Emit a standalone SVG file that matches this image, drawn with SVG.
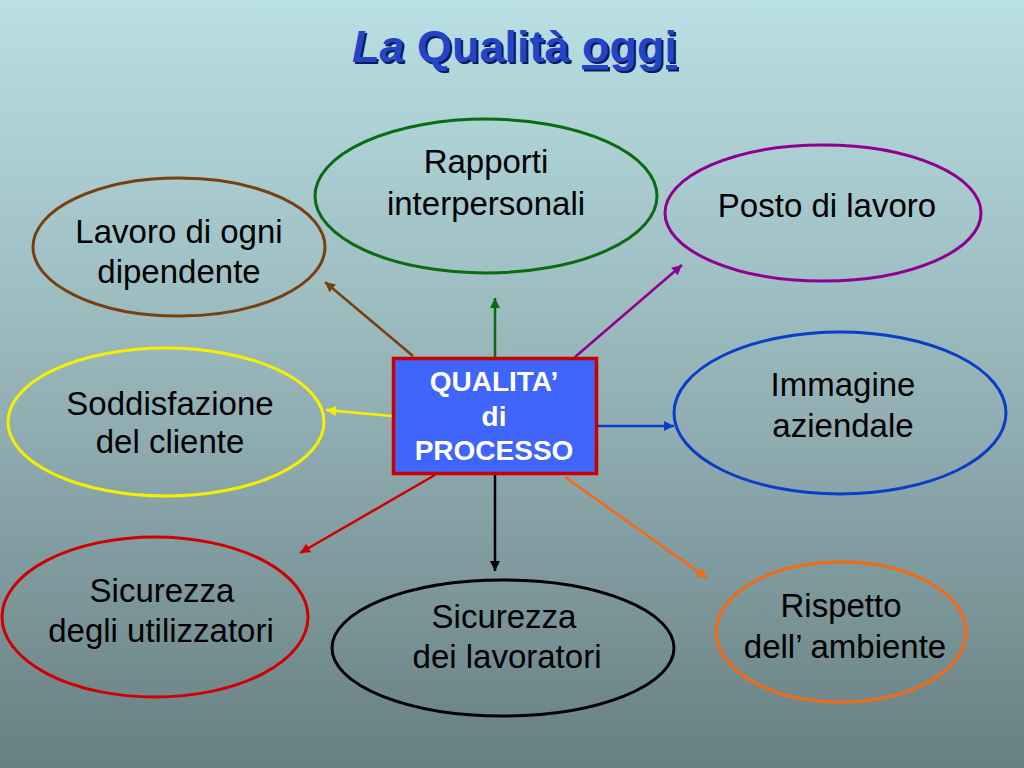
<svg xmlns="http://www.w3.org/2000/svg" width="1024" height="768" viewBox="0 0 1024 768">
<defs>
<linearGradient id="bg" x1="0" y1="0" x2="0" y2="1">
<stop offset="0" stop-color="#b9e0e4"/>
<stop offset="0.5" stop-color="#95b3b7"/>
<stop offset="1" stop-color="#687f83"/>
</linearGradient>
<marker id="a-green" viewBox="0 0 10 10" refX="10" refY="5" markerWidth="11" markerHeight="10" markerUnits="userSpaceOnUse" orient="auto"><path d="M0,0 L10,5 L0,10 Z" fill="#0b6b12"/></marker>
<marker id="a-brown" viewBox="0 0 10 10" refX="10" refY="5" markerWidth="11" markerHeight="10" markerUnits="userSpaceOnUse" orient="auto"><path d="M0,0 L10,5 L0,10 Z" fill="#7a3f0e"/></marker>
<marker id="a-yellow" viewBox="0 0 10 10" refX="10" refY="5" markerWidth="11" markerHeight="10" markerUnits="userSpaceOnUse" orient="auto"><path d="M0,0 L10,5 L0,10 Z" fill="#f5f000"/></marker>
<marker id="a-purple" viewBox="0 0 10 10" refX="10" refY="5" markerWidth="11" markerHeight="10" markerUnits="userSpaceOnUse" orient="auto"><path d="M0,0 L10,5 L0,10 Z" fill="#900090"/></marker>
<marker id="a-blue" viewBox="0 0 10 10" refX="10" refY="5" markerWidth="11" markerHeight="10" markerUnits="userSpaceOnUse" orient="auto"><path d="M0,0 L10,5 L0,10 Z" fill="#0a3dc8"/></marker>
<marker id="a-orange" viewBox="0 0 10 10" refX="10" refY="5" markerWidth="11" markerHeight="10" markerUnits="userSpaceOnUse" orient="auto"><path d="M0,0 L10,5 L0,10 Z" fill="#f56a10"/></marker>
<marker id="a-red" viewBox="0 0 10 10" refX="10" refY="5" markerWidth="11" markerHeight="10" markerUnits="userSpaceOnUse" orient="auto"><path d="M0,0 L10,5 L0,10 Z" fill="#d00000"/></marker>
<marker id="a-black" viewBox="0 0 10 10" refX="10" refY="5" markerWidth="11" markerHeight="10" markerUnits="userSpaceOnUse" orient="auto"><path d="M0,0 L10,5 L0,10 Z" fill="#000000"/></marker>
</defs>
<style>
.el{fill:none;stroke-width:3}
.lbl{font-family:"Liberation Sans",Arial,sans-serif;font-size:33px;fill:#000;text-anchor:middle}
.ctr{font-family:"Liberation Sans",Arial,sans-serif;font-size:28px;font-weight:bold;fill:#fff;text-anchor:middle}
.title{font-family:"Liberation Sans",Arial,sans-serif;font-size:45px;font-weight:bold}
.cn line{stroke-width:2.5;fill:none}
</style>
<rect x="0" y="0" width="1024" height="768" fill="url(#bg)"/>

<g id="title">
<text class="title" x="354" y="64" fill="#0c1a5a"><tspan font-style="italic">La</tspan> Qualità <tspan text-decoration="underline">oggi</tspan></text>
<text class="title" x="352" y="62" fill="#2244c8"><tspan font-style="italic">La</tspan> Qualità <tspan text-decoration="underline">oggi</tspan></text>
</g>

<g id="connectors" class="cn">
<line x1="495" y1="358" x2="495" y2="298" stroke="#0b6b12" marker-end="url(#a-green)"/>
<line x1="413" y1="356" x2="325" y2="282" stroke="#7a3f0e" marker-end="url(#a-brown)"/>
<line x1="392" y1="416" x2="326" y2="410" stroke="#f5f000" marker-end="url(#a-yellow)"/>
<line x1="575" y1="357" x2="682" y2="265" stroke="#900090" marker-end="url(#a-purple)"/>
<line x1="598" y1="426" x2="674" y2="426" stroke="#0a3dc8" marker-end="url(#a-blue)"/>
<line x1="565" y1="477" x2="707" y2="578" stroke="#f56a10" marker-end="url(#a-orange)"/>
<line x1="435" y1="475" x2="300" y2="553" stroke="#d00000" marker-end="url(#a-red)"/>
<line x1="495" y1="475" x2="495" y2="571" stroke="#000000" marker-end="url(#a-black)"/>
</g>

<g id="center">
<rect x="393.5" y="358.5" width="203" height="115" fill="#3f65fa" stroke="#c80000" stroke-width="3.5"/>
<text class="ctr" x="494" y="391">QUALITA’</text>
<text class="ctr" x="494" y="426">di</text>
<text class="ctr" x="494" y="460">PROCESSO</text>
</g>

<g id="rapporti">
<ellipse class="el" cx="486" cy="196" rx="171" ry="77" stroke="#0b6b12"/>
<text class="lbl" x="486" y="173">Rapporti</text>
<text class="lbl" x="486" y="215">interpersonali</text>
</g>

<g id="posto">
<ellipse class="el" cx="823" cy="213" rx="158" ry="68" stroke="#900090"/>
<text class="lbl" x="827" y="217">Posto di lavoro</text>
</g>

<g id="lavoro">
<ellipse class="el" cx="179" cy="247" rx="146" ry="69" stroke="#7a3f0e"/>
<text class="lbl" x="179" y="243">Lavoro di ogni</text>
<text class="lbl" x="179" y="283">dipendente</text>
</g>

<g id="soddisfazione">
<ellipse class="el" cx="166" cy="422" rx="158" ry="74" stroke="#f5f000"/>
<text class="lbl" x="170" y="415">Soddisfazione</text>
<text class="lbl" x="170" y="453">del cliente</text>
</g>

<g id="immagine">
<ellipse class="el" cx="840" cy="413" rx="166" ry="81" stroke="#0a3dc8"/>
<text class="lbl" x="843" y="396">Immagine</text>
<text class="lbl" x="843" y="437">aziendale</text>
</g>

<g id="utilizzatori">
<ellipse class="el" cx="155" cy="617" rx="153" ry="80" stroke="#d00000"/>
<text class="lbl" x="162" y="602">Sicurezza</text>
<text class="lbl" x="161" y="642">degli utilizzatori</text>
</g>

<g id="lavoratori">
<ellipse class="el" cx="503" cy="648" rx="171" ry="68" stroke="#000000"/>
<text class="lbl" x="504" y="628">Sicurezza</text>
<text class="lbl" x="507" y="668">dei lavoratori</text>
</g>

<g id="ambiente">
<ellipse class="el" cx="841" cy="632" rx="125" ry="70" stroke="#f56a10"/>
<text class="lbl" x="841" y="617">Rispetto</text>
<text class="lbl" x="845" y="658">dell’ ambiente</text>
</g>
</svg>
